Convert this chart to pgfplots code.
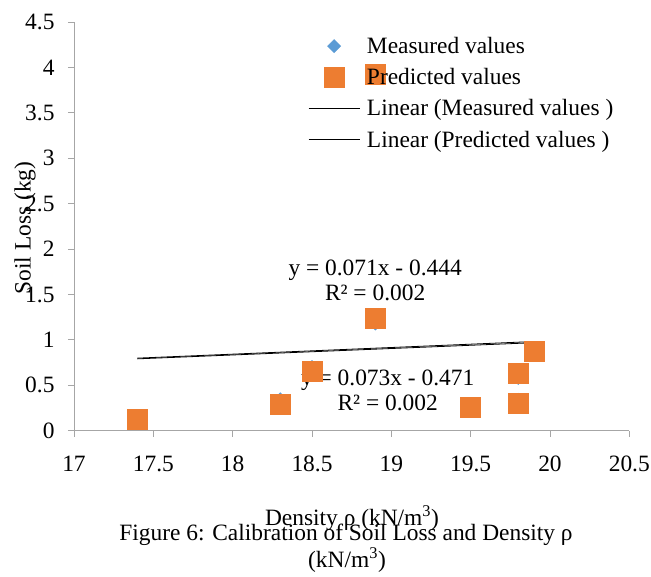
\documentclass[border=0pt]{standalone}
\usepackage{fontspec}
\setmainfont{Liberation Serif}
\usepackage{pgfplots}
\pgfplotsset{compat=1.18}
\definecolor{mblue}{HTML}{5B9BD5}
\definecolor{porange}{HTML}{ED7D31}
\definecolor{axgray}{HTML}{A6A6A6}
\begin{document}
\begin{tikzpicture}[font=\fontsize{23.5}{25}\selectfont]
\useasboundingbox (-74bp,-146.3bp) rectangle (577bp,430.7bp);
\begin{axis}[
  scale only axis, width=555.3bp, height=408.7bp,
  xmin=17, xmax=20.5, ymin=0, ymax=4.5,
  axis lines=left,
  axis line style={axgray, line width=0.8bp, -},
  xtick={17,17.5,18,18.5,19,19.5,20,20.5},
  ytick={0,0.5,1,1.5,2,2.5,3,3.5,4,4.5},
  tick align=outside, major tick length=6bp,
  tick style={axgray, line width=0.8bp},
  /pgf/number format/assume math mode=true,
  xticklabel style={yshift=-16bp},
  yticklabel style={xshift=-10bp},
  xlabel={Density ρ (kN/m\textsuperscript{3})},
  xlabel style={at={(axis description cs:0.5006,0)}, anchor=base, yshift=-94.3bp},
  ylabel={Soil Loss (kg)},
  ylabel style={at={(axis description cs:-0.0882,0.496)}, anchor=center},
  legend style={draw=none, fill=none, at={(axis description cs:0.416,0.973)},
    anchor=north west, cells={anchor=west}, row sep=9.5bp,
    /tikz/every odd column/.append style={column sep=5bp},
    font=\fontsize{23.5}{25}\selectfont},
  legend image code/.code={\draw[mark repeat=2,mark phase=2,#1] plot coordinates {(0bp,0bp) (25.5bp,0bp) (51bp,0bp)};},
]
\addplot[only marks, mark=square*, mark size=4.7bp, mark options={rotate=45, fill=mblue, draw=mblue}]
  coordinates {(17.4,0.13) (18.3,0.346) (18.5,0.70) (18.9,1.18) (19.5,0.24) (19.8,0.58) (19.8,0.34) (19.9,0.87) (18.9,3.89)};
\addlegendentry{Measured values}
\addplot[only marks, mark=square*, mark size=10bp, mark options={fill=porange, draw=porange}]
  coordinates {(17.4,0.13) (18.3,0.29) (18.5,0.65) (18.9,1.24) (19.5,0.26) (19.8,0.63) (19.8,0.30) (19.9,0.87) (18.9,3.93)};
\addlegendentry{Predicted values}
\addplot[black, line width=0.8bp, no markers] coordinates {(17.4,0.791) (19.9,0.969)};
\addlegendentry{Linear (Measured values )}
\addplot[black, line width=0.8bp, no markers] coordinates {(17.4,0.799) (19.9,0.982)};
\addlegendentry{Linear (Predicted values )}
\node[align=center] at (axis cs:18.898,1.655) {y = 0.071x - 0.444\\R² = 0.002};
\node[align=center] at (axis cs:18.977,0.443) {y = 0.073x - 0.471\\R² = 0.002};
\end{axis}
\node[anchor=base] at (272bp,-109.3bp) {Figure 6: Calibration of Soil Loss and Density ρ};
\node[anchor=base] at (273bp,-136.3bp) {(kN/m\textsuperscript{3})};
\end{tikzpicture}
\end{document}
